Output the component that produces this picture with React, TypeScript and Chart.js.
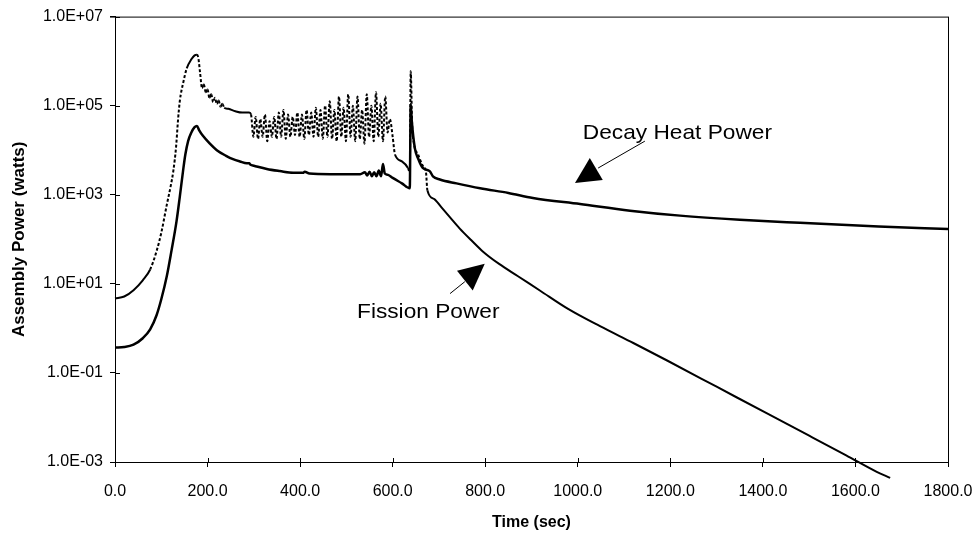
import React, { useEffect, useRef } from "react";
import { Chart, registerables } from "chart.js";

Chart.register(...registerables);

// ---- Data ----
const fissionTime = [
  0, 20, 40, 60, 76, 90, 100, 112, 120, 126, 132, 136, 140, 148, 155, 165, 172, 177, 180, 184,
  188, 192, 196, 200, 204, 208, 212, 216, 220, 224, 228, 232, 236, 245, 260, 275, 290,
  294, 299, 304, 309, 314, 319, 324, 329, 334, 339, 344, 349, 354, 359, 364, 369, 374, 379, 384,
  389, 394, 399, 404, 409, 414, 419, 424, 429, 434, 439, 444, 449, 454, 459, 464, 469, 474, 479,
  484, 489, 494, 499, 504, 509, 514, 519, 524, 529, 534, 539, 544, 549, 554, 559, 564, 569, 574,
  579, 584, 589, 594,
  600, 605, 620, 633, 637, 639, 642, 646, 655, 665, 672, 675, 690, 705, 724, 745, 770, 796, 830,
  870, 918, 980, 1048, 1120, 1193, 1300, 1409, 1500, 1580, 1646, 1675,
];
const fissionPower = [
  4.7, 5.2, 7.2, 12, 21, 55, 140, 600, 1500, 3400, 1.2e4, 4.5e4, 1.26e5, 3.5e5, 6.9e5, 1.1e6, 1.35e6, 1.4e6, 1.2e6, 5.3e5,
  2.5e5, 3e5, 2e5, 2.3e5, 1.5e5, 1.8e5, 1.2e5, 1.5e5, 1.1e5, 1.3e5, 9.5e4, 1.1e5, 9e4, 8.5e4, 7.5e4, 7e4, 7e4,
  6.3e4, 2e4, 5.6e4, 1.8e4, 5e4, 2e4, 6.3e4, 1.6e4, 4.5e4, 2e4, 5.6e4, 1.8e4, 7e4, 2e4, 8e4, 1.8e4, 6.3e4, 2e4, 5.6e4,
  2.2e4, 7e4, 2e4, 6.3e4, 1.8e4, 8e4, 2.2e4, 7e4, 2e4, 9e4, 2e4, 8e4, 1.8e4, 1e5, 2e4, 1.25e5, 1.8e4, 8e4, 1.6e4,
  1.6e5, 2e4, 9e4, 1.6e4, 1.8e5, 2e4, 1e5, 1.6e4, 1.6e5, 1.8e4, 8e4, 1.4e4, 1.8e5, 2e4, 1e5, 1.6e4, 2e5, 2e4, 1.1e5,
  1.6e4, 1.6e5, 2.5e4, 5e4,
  2e4, 8e3, 5.6e3, 4e3, 3.2e3, 5.9e5, 4e4, 1.4e4, 8e3, 4.5e3, 3.2e3, 1.26e3, 800, 525, 310, 174, 95, 52, 28,
  15, 7.1, 2.7, 1.12, 0.47, 0.19, 0.049, 0.0123, 0.0039, 1.41e-3, 6e-4, 4.4e-4,
];

const decayTime = [
  0, 20, 40, 60, 76, 90, 100, 112, 122, 133, 140, 147, 152, 158, 165, 172, 177, 182, 190, 205,
  220, 240, 255, 270, 285, 290, 293, 300, 328, 356, 385, 406, 410, 420, 465, 500, 530, 540, 545,
  550, 555, 560, 565, 570, 575, 579, 583, 590, 600, 620, 637, 639, 641, 648, 655, 665, 680, 687,
  702, 738, 789, 850, 903, 1005, 1113, 1221, 1350, 1480, 1650, 1800,
];
const decayPower = [
  0.37, 0.38, 0.43, 0.6, 0.95, 2, 4.5, 15, 55, 256, 900, 3400, 8000, 1.6e4, 2.5e4, 3.3e4, 3.5e4, 2.8e4, 2.1e4, 1.4e4,
  1e4, 7.5e3, 6.3e3, 5.6e3, 5.1e3, 5.1e3, 4.7e3, 4.5e3, 3.8e3, 3.4e3, 3.1e3, 3.1e3, 3.3e3, 3e3, 2.9e3, 2.9e3, 2.9e3, 3.2e3, 2.7e3,
  3.3e3, 2.6e3, 3.2e3, 2.6e3, 3.5e3, 2.6e3, 4.9e3, 3e3, 2.8e3, 2.4e3, 1.8e3, 1.4e3, 1.07e5, 5e4, 1.1e4, 6.5e3, 4e3, 3.4e3, 2.6e3,
  2.2e3, 1.8e3, 1.4e3, 1.1e3, 850, 620, 440, 340, 275, 235, 195, 170,
];

const yTickValues = [1e-3, 1e-1, 1e1, 1e3, 1e5, 1e7];
const xTickStep = 200;
const xMin = 0;
const xMax = 1800;

// Annotations (data coordinates)
const decayLabel = { text: "Decay Heat Power", t: 1011, v: 1.77e4 };
const decayTriangle = [[1026, 6650], [994, 1836], [1054, 2143]];
const decayLeader = [[1044, 3980], [1145, 1.6e4]];
const fissionLabel = { text: "Fission Power", t: 523, v: 1.75 };
const fissionTriangle = [[739, 19.7], [799, 28.3], [773, 7.05]];
const fissionLeader = [[724, 6.04], [756, 11.2]];

const FONT = '"Liberation Sans", Arial, Helvetica, sans-serif';

function fmtExp(v: number): string {
  const e = Math.round(Math.log10(v));
  return "1.0E" + (e < 0 ? "-" : "+") + String(Math.abs(e)).padStart(2, "0");
}

const framePlugin = {
  id: "frameAndNotes",
  afterDraw(chart: any) {
    const { ctx, chartArea: a, scales } = chart;
    const xs = scales.x;
    const ys = scales.y;
    ctx.save();
    ctx.strokeStyle = "#000";
    ctx.lineWidth = 1;
    // top and right frame
    ctx.beginPath();
    ctx.moveTo(a.left - 5, a.top + 0.5);
    ctx.lineTo(a.right, a.top + 0.5);
    ctx.moveTo(a.right + 0.5, a.top);
    ctx.lineTo(a.right + 0.5, a.bottom + 4);
    ctx.stroke();
    // inner tick marks
    ctx.beginPath();
    for (const v of yTickValues) {
      const y = Math.round(ys.getPixelForValue(v)) + 0.5;
      ctx.moveTo(a.left, y);
      ctx.lineTo(a.left + 5, y);
    }
    for (let t = xMin; t <= xMax; t += xTickStep) {
      const x = Math.round(xs.getPixelForValue(t)) + 0.5;
      ctx.moveTo(x, a.bottom);
      ctx.lineTo(x, a.bottom - 4);
    }
    ctx.stroke();

    const P = (p: number[]) => [xs.getPixelForValue(p[0]), ys.getPixelForValue(p[1])];
    const tri = (pts: number[][]) => {
      ctx.beginPath();
      pts.forEach((p, i) => {
        const [x, y] = P(p);
        if (i === 0) ctx.moveTo(x, y);
        else ctx.lineTo(x, y);
      });
      ctx.closePath();
      ctx.fillStyle = "#000";
      ctx.fill();
    };
    const leader = (pts: number[][]) => {
      ctx.beginPath();
      const [x0, y0] = P(pts[0]);
      const [x1, y1] = P(pts[1]);
      ctx.moveTo(x0, y0);
      ctx.lineTo(x1, y1);
      ctx.lineWidth = 1;
      ctx.stroke();
    };
    const label = (l: { text: string; t: number; v: number }) => {
      const [x, y] = P([l.t, l.v]);
      ctx.save();
      ctx.translate(x, y);
      ctx.scale(1.08, 1);
      ctx.font = "21px " + FONT;
      ctx.fillStyle = "#000";
      ctx.textAlign = "left";
      ctx.textBaseline = "alphabetic";
      ctx.fillText(l.text, 0, 0);
      ctx.restore();
    };
    tri(decayTriangle);
    leader(decayLeader);
    label(decayLabel);
    tri(fissionTriangle);
    leader(fissionLeader);
    label(fissionLabel);
    ctx.restore();
  },
};

export default function App() {
  const ref = useRef<HTMLCanvasElement | null>(null);
  useEffect(() => {
    if (!ref.current) return;
    const fission = fissionTime.map((t, i) => ({ x: t, y: fissionPower[i] }));
    const decay = decayTime.map((t, i) => ({ x: t, y: decayPower[i] }));
    const steepDash = (c: any) => {
      const dx = Math.abs(c.p1.x - c.p0.x);
      const dy = Math.abs(c.p1.y - c.p0.y);
      return dy > 2 * dx ? [3, 2] : undefined;
    };
    const chart = new Chart(ref.current, {
      type: "line",
      data: {
        datasets: [
          {
            label: "Decay Heat Power",
            data: decay,
            borderColor: "#000",
            borderWidth: 2.5,
            pointRadius: 0,
            cubicInterpolationMode: "monotone",
            fill: false,
          },
          {
            label: "Fission Power",
            data: fission,
            borderColor: "#000",
            borderWidth: 2,
            pointRadius: 0,
            cubicInterpolationMode: "monotone",
            fill: false,
            clip: false as any,
            segment: { borderDash: steepDash },
          },
        ],
      },
      options: {
        animation: false,
        responsive: true,
        maintainAspectRatio: false,
        layout: { padding: { left: 0, right: 31, top: 15, bottom: 0 } },
        plugins: { legend: { display: false }, tooltip: { enabled: false } },
        scales: {
          x: {
            type: "linear",
            min: xMin,
            max: xMax,
            afterFit: (s: any) => {
              s.height = 78;
              s.paddingRight = 0;
              s.paddingLeft = 0;
            },
            ticks: {
              stepSize: xTickStep,
              color: "#000",
              padding: 15,
              maxRotation: 0,
              font: { family: FONT, size: 16 },
              callback: (v: any) => Number(v).toFixed(1),
            },
            grid: { drawOnChartArea: false, drawTicks: true, tickLength: 5, color: "#000" },
            border: { display: true, color: "#000", width: 1 },
            title: {
              display: true,
              text: "Time (sec)",
              color: "#000",
              font: { family: FONT, size: 16, weight: "bold" },
              padding: { top: 0, bottom: 8 },
            },
          },
          y: {
            type: "logarithmic",
            min: 1e-3,
            max: 1e7,
            afterFit: (s: any) => {
              s.width = 115;
            },
            afterBuildTicks: (s: any) => {
              s.ticks = yTickValues.map((v) => ({ value: v }));
            },
            ticks: {
              color: "#000",
              padding: 7,
              font: { family: FONT, size: 16 },
              callback: (v: any) => fmtExp(Number(v)),
            },
            grid: { drawOnChartArea: false, drawTicks: true, tickLength: 5, color: "#000" },
            border: { display: true, color: "#000", width: 1 },
            title: {
              display: true,
              text: "Assembly Power (watts)",
              color: "#000",
              font: { family: FONT, size: 17, weight: "bold" },
              padding: { top: 9, bottom: 0 },
            },
          },
        },
      },
      plugins: [framePlugin],
    });
    return () => chart.destroy();
  }, []);
  return (
    <div style={{ position: "fixed", left: 0, top: 0, width: 979, height: 540, background: "#fff" }}>
      <canvas ref={ref} />
    </div>
  );
}
